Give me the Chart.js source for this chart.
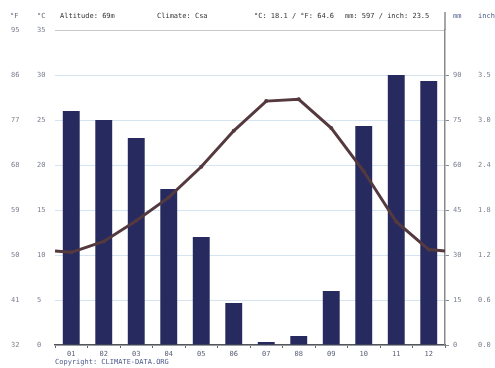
<!DOCTYPE html>
<html>
<head>
<meta charset="utf-8">
<script src="https://cdn.jsdelivr.net/npm/chart.js@4"></script>
<style>
  html, body { margin: 0; padding: 0; background: #fff; }
  #wrap { position: relative; width: 495px; height: 368px; }
  canvas { position: absolute; left: 0; top: 0; }
  .t { position: absolute; font: 7px "DejaVu Sans Mono", monospace; white-space: nowrap; line-height: 8px; }
  .hd { color: #333; top: 12px; }
  .unit { color: #667; top: 12px; }
  .blue { color: #4a5a8c; }
</style>
</head>
<body>
<div id="wrap">
  <canvas id="chart" width="495" height="368"></canvas>
  <div class="t unit" style="left:10px">°F</div>
  <div class="t unit" style="left:37px">°C</div>
  <div class="t hd" style="left:60px">Altitude: 69m</div>
  <div class="t hd" style="left:157px">Climate: Csa</div>
  <div class="t hd" style="left:254px">°C: 18.1 / °F: 64.6</div>
  <div class="t hd" style="left:345px">mm: 597 / inch: 23.5</div>
  <div class="t unit blue" style="left:453px">mm</div>
  <div class="t unit blue" style="left:478px">inch</div>
  <div class="t blue" style="left:55px;top:358px">Copyright: CLIMATE-DATA.ORG</div>
</div>
<script>
const months = ['01','02','03','04','05','06','07','08','09','10','11','12'];
const precipMm = [78, 75, 69, 52, 36, 14, 1, 3, 18, 73, 90, 88];
const tempC = [10.3, 11.5, 13.8, 16.4, 19.8, 23.8, 27.1, 27.3, 24.1, 19.3, 13.7, 10.6];
const fLabels = ['32','41','50','59','68','77','86','95'];
const inchLabels = ['0.0','0.6','1.2','1.8','2.4','3.0','3.5'];

const tickFont = { family: '"DejaVu Sans Mono", monospace', size: 7 };
const tickColor = '#7a7f90';

// line runs on past Jan / Dec to the plot edges (wraps Dec -> Jan)
const edgeLine = {
    id: 'edgeLine',
    afterDatasetsDraw(chart) {
        const meta = chart.getDatasetMeta(1);
        const pts = meta.data;
        if (!pts.length) return;
        const a = chart.chartArea;
        const first = pts[0], last = pts[pts.length - 1];
        const yEdge = (first.y + last.y) / 2;
        const ctx = chart.ctx;
        ctx.save();
        ctx.strokeStyle = '#54393f';
        ctx.lineWidth = 3;
        ctx.beginPath();
        ctx.moveTo(a.left, yEdge); ctx.lineTo(first.x, first.y);
        ctx.moveTo(last.x, last.y); ctx.lineTo(a.right, yEdge);
        ctx.stroke();
        ctx.restore();
    },
    afterDraw(chart) {
        const s = chart.scales.yMm;
        const ctx = chart.ctx;
        ctx.save();
        ctx.strokeStyle = '#8a8a8a';
        ctx.lineWidth = 1.5;
        ctx.beginPath();
        ctx.moveTo(s.left, s.top - 18); ctx.lineTo(s.left, s.top);
        ctx.stroke();
        ctx.restore();
    }
};

new Chart(document.getElementById('chart'), {
    data: {
        labels: months,
        datasets: [
            { type: 'bar', data: precipMm, yAxisID: 'yMm', backgroundColor: '#262a5f',
              categoryPercentage: 1, barPercentage: 0.52, order: 1 },
            { type: 'line', data: tempC, yAxisID: 'y', borderColor: '#54393f', borderWidth: 3,
              pointRadius: 2, pointBackgroundColor: '#54393f', pointBorderWidth: 0, tension: 0, order: 0 }
        ]
    },
    options: {
        responsive: false,
        animation: false,
        layout: { padding: { top: 30, left: 11, right: 0, bottom: 0 } },
        plugins: { legend: { display: false }, tooltip: { enabled: false } },
        scales: {
            x: {
                offset: true,
                grid: { display: true, drawOnChartArea: false, drawTicks: true, tickLength: 3, color: '#666', offset: true },
                border: { display: true, color: '#555', width: 1.5 },
                ticks: { font: tickFont, color: '#5a6078', padding: 2, maxRotation: 0 },
                afterFit(s) { s.height = 23; }
            },
            yF: {
                position: 'left', weight: 2, min: 32, max: 95,
                grid: { display: false, drawTicks: false }, border: { display: false },
                ticks: { stepSize: 9, font: tickFont, color: tickColor, crossAlign: 'far',
                         callback: (v, i) => fLabels[i] },
                afterFit(s) { s.width = 26; }
            },
            y: {
                position: 'left', weight: 1, min: 0, max: 35,
                grid: { drawTicks: false, color: c => c.tick.value === 35 ? '#c8c8c8' : '#d6e4f2', lineWidth: 1 },
                border: { display: false },
                ticks: { stepSize: 5, font: tickFont, color: tickColor, crossAlign: 'far' },
                afterFit(s) { s.width = 18; }
            },
            yMm: {
                position: 'right', weight: 1, min: 0, max: 105,
                grid: { drawOnChartArea: false, drawTicks: true, tickLength: 4, color: '#8a8a8a' },
                border: { display: true, color: '#8a8a8a', width: 1.5 },
                ticks: { stepSize: 15, font: tickFont, color: tickColor, padding: 4 },
                afterBuildTicks(s) { s.ticks = s.ticks.filter(t => t.value <= 90); },
                afterFit(s) { s.width = 28; }
            },
            yIn: {
                position: 'right', weight: 2, min: 0, max: 105,
                grid: { display: false, drawTicks: false }, border: { display: false },
                ticks: { stepSize: 15, font: tickFont, color: tickColor, padding: 5,
                         callback: (v, i) => inchLabels[i] },
                afterBuildTicks(s) { s.ticks = s.ticks.filter(t => t.value <= 90); },
                afterFit(s) { s.width = 22; }
            }
        }
    },
    plugins: [edgeLine]
});
</script>
</body>
</html>
